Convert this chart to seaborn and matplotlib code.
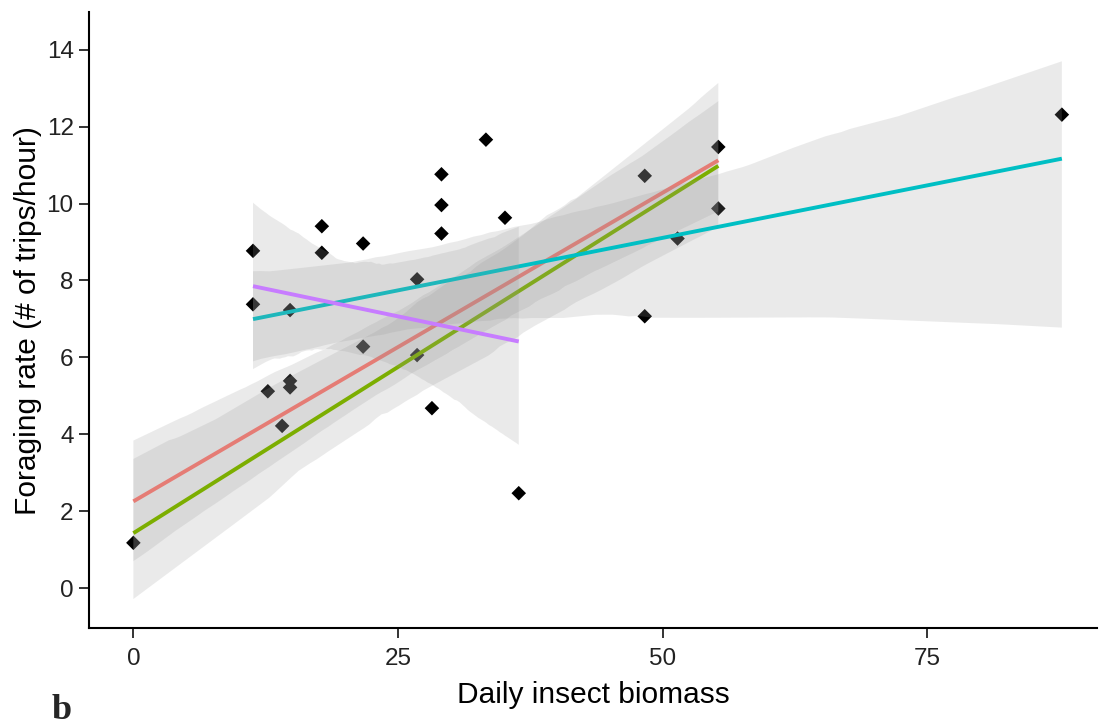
import numpy as np
import pandas as pd
import matplotlib
matplotlib.use("Agg")
import matplotlib.pyplot as plt
import seaborn as sns

# ---- data ----
biomass = [0, 11.3, 11.3, 12.7, 14.05, 14.8, 14.8, 14.8, 17.8, 17.8, 21.7, 21.7, 26.8, 26.8,
           28.2, 29.1, 29.1, 29.1, 33.3, 35.1, 36.4, 48.3, 48.3, 51.4, 55.25, 55.25, 87.7]
foraging_rate = [1.18, 8.77, 7.38, 5.12, 4.22, 5.39, 5.22, 7.23, 9.41, 8.72, 8.96, 6.28, 8.03, 6.06,
                 4.68, 10.76, 9.96, 9.22, 11.66, 9.63, 2.47, 10.72, 7.07, 9.09, 11.47, 9.87, 12.31]

# group membership of each observation for the four fitted lines
in_red = [1, 0, 0, 1, 0, 1, 0, 0, 0, 0, 0, 0, 0, 1, 1, 0, 0, 1, 0, 0, 0, 1, 0, 0, 1, 1, 0]
in_green = [1, 0, 0, 0, 1, 0, 0, 0, 0, 0, 0, 0, 0, 0, 1, 0, 0, 0, 0, 1, 0, 0, 0, 0, 1, 1, 0]
in_cyan = [0, 1, 1, 1, 0, 0, 1, 1, 1, 1, 1, 1, 0, 1, 1, 1, 1, 1, 1, 0, 1, 0, 1, 1, 0, 1, 1]
in_purple = [0, 1, 1, 1, 0, 0, 0, 0, 1, 0, 1, 1, 1, 1, 1, 0, 0, 1, 0, 1, 1, 0, 0, 0, 0, 0, 0]

group_names = ["red", "green", "cyan", "purple"]
group_colors = ["#F8766D", "#7CAE00", "#00BFC4", "#C77CFF"]
boot_seeds = [22, 39, 29, 6]

x_ticks = [0, 25, 50, 75]
y_ticks = [0, 2, 4, 6, 8, 10, 12, 14]

df = pd.DataFrame({"biomass": biomass, "rate": foraging_rate,
                   "red": in_red, "green": in_green, "cyan": in_cyan, "purple": in_purple})

sns.set_style("ticks")
plt.rcParams["font.family"] = ["Liberation Sans", "DejaVu Sans"]

fig = plt.figure(figsize=(10.99, 7.25), dpi=100)
ax = fig.add_axes([0.081, 0.134, 0.917, 0.849])

sns.scatterplot(data=df, x="biomass", y="rate", marker="D", s=55, color="black",
                edgecolor="none", ax=ax, zorder=1)

for k, (name, col, sd) in enumerate(zip(group_names, group_colors, boot_seeds)):
    sub = df[df[name] == 1]
    n_before = len(ax.collections)
    sns.regplot(data=sub, x="biomass", y="rate", scatter=False, ax=ax, color=col,
                n_boot=1000, seed=sd, truncate=True,
                line_kws={"lw": 2.8, "zorder": 3 + 2 * k, "solid_capstyle": "butt"})
    for coll in ax.collections[n_before:]:
        coll.set_facecolor((0.6, 0.6, 0.6))
        coll.set_alpha(0.2)
        coll.set_edgecolor("none")
        coll.set_zorder(2 + 2 * k)

ax.set_xlim(-4.19, 91)
ax.set_ylim(-1.03, 14.97)
ax.set_xticks(x_ticks)
ax.set_yticks(y_ticks)
for s in ("top", "right"):
    ax.spines[s].set_visible(False)
for s in ("left", "bottom"):
    ax.spines[s].set_linewidth(1.5)
    ax.spines[s].set_color("black")
ax.tick_params(direction="out", length=7, width=1.4, color="#333333", labelsize=17.5,
               labelcolor="#222222", pad=4)
ax.tick_params(axis="x", pad=7.5)
ax.set_xlabel("Daily insect biomass", fontsize=21.5, labelpad=8, color="black")
ax.set_ylabel("Foraging rate (# of trips/hour)", fontsize=21.5, labelpad=3, color="black")

fig.text(52 / 1099, 1 - 719 / 725, "b", fontsize=26, fontweight="bold",
         family=["Liberation Serif", "DejaVu Serif"], ha="left", va="baseline")

fig.savefig("out.png")
